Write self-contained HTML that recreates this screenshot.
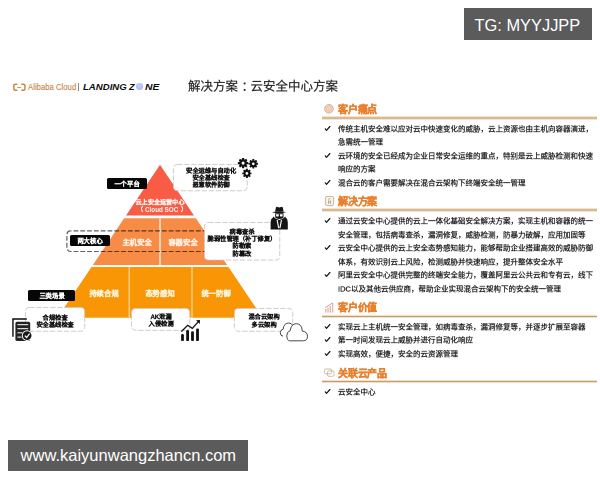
<!DOCTYPE html>
<html lang="zh-CN"><head><meta charset="utf-8">
<style>
*{margin:0;padding:0;box-sizing:border-box}
html,body{width:600px;height:480px;overflow:hidden;background:#fff}
body{position:relative;font-family:"Liberation Sans",sans-serif;color:#222}
.a{position:absolute;white-space:nowrap}
.s{position:absolute;white-space:nowrap;transform-origin:0 0;will-change:transform}
.wm{position:absolute;background:#5b5b5b;color:#fff;font-family:"Liberation Sans",sans-serif;white-space:nowrap}
.ul{position:absolute;left:322px;width:275px;height:3.4px;margin-top:-1px;background:linear-gradient(180deg,#fff0da 0%,#f3d8b4 22%,#c0a07c 50%,#e6d2b6 75%,#fff8ec 100%)}
.co{position:absolute;background:#fff;border:1px dashed #c8c8c8;border-radius:4px}
.bl{position:absolute;background:#060606;border-radius:1.6px}
</style></head>
<body>
<div class="wm" style="left:464px;top:8px;width:128px;height:31.7px;font-size:16.4px;line-height:31.7px;padding-left:10.6px"><span style="position:relative;top:1.9px">TG: MYYJJPP</span></div>
<div class="wm" style="left:8px;top:440px;width:239.6px;height:31.4px;font-size:16.5px;line-height:31.4px;padding-left:12.6px">www.kaiyunwangzhancn.com</div>
<svg class="a" style="left:12px;top:81.5px" width="16" height="11" viewBox="12 81 16 11">
  <path d="M17.3 83.15 H15.3 Q13.85 83.15 13.85 84.6 V87.7 Q13.85 89.15 15.3 89.15 H17.3" fill="none" stroke="#c58443" stroke-width="1.45"/>
  <path d="M21.4 83.15 H23.5 Q24.95 83.15 24.95 84.6 V87.7 Q24.95 89.15 23.5 89.15 H21.4" fill="none" stroke="#c58443" stroke-width="1.45"/>
  <path d="M17.2 86.5 H21.1" stroke="#c98a55" stroke-width="0.9"/>
</svg>
<div class="a" style="left:27.5px;top:82px;font-size:9px;line-height:11px;color:#c98547;-webkit-text-stroke:0.12px #c98547;transform:scaleX(0.86);transform-origin:0 0">Alibaba Cloud</div>
<div class="a" style="left:78px;top:83.2px;width:0.9px;height:7.4px;background:#8a8a8a"></div>
<div class="a" style="left:82.5px;top:82px;font-size:8.5px;line-height:10px;font-weight:bold;font-style:italic;color:#0d0d0d;transform:scaleX(1.13);transform-origin:0 0">LANDING</div>
<div class="a" style="left:128.8px;top:82px;font-size:8.5px;line-height:10px;font-weight:bold;font-style:italic;color:#0d0d0d;transform:scaleX(1.08);transform-origin:0 0">Z</div>
<div class="a" style="left:144.5px;top:82px;font-size:8.5px;line-height:10px;font-weight:bold;font-style:italic;color:#0d0d0d;transform:scaleX(1.22);transform-origin:0 0">NE</div>
<div class="a" style="left:136px;top:83.3px;width:7.4px;height:7px;border-radius:50%;background:radial-gradient(circle at 45% 40%,#c3cff7,#a0b3ef)"></div>
<div class="s" style="left:187.8px;top:78px;font-size:25.000px;line-height:32.000px;color:#262626;transform:scale(0.5);-webkit-text-stroke:0.360px #262626;">解决方案<span style="position:relative;left:7px">：</span>云安全中心方案</div>
<svg class="a" style="left:323px;top:103px" width="12" height="12" viewBox="0 0 12 12">
  <circle cx="6" cy="5.8" r="4.3" fill="#f8dcc6" stroke="#c9a593" stroke-width="0.9"/>
  <circle cx="6" cy="5.8" r="2.5" fill="none" stroke="#e3ad8c" stroke-width="0.7"/>
  <circle cx="6" cy="5.8" r="0.9" fill="#f1c58c"/>
</svg>
<div class="s" style="left:337.6px;top:104px;font-size:10.000px;line-height:12.000px;color:#e9802e;font-weight:bold;letter-spacing:-0.200px;-webkit-text-stroke:0.350px #e9802e;">客户痛点</div>
<div class="ul" style="top:117.2px"></div>
<div class="s" style="left:338.3px;top:123.69999999999999px;font-size:15.000px;line-height:20.000px;color:#1a1a1a;transform:scale(0.5);-webkit-text-stroke:0.450px #1a1a1a;">传统主机安全难以应对云中快速变化的威胁，云上资源也由主机向容器演进，</div>
<svg class="a" style="left:323px;top:123.70px" width="9" height="10" viewBox="323 123.70 9 10"><path d="M325.3 128.50 L326.5 130.10 L329.9 126.20" fill="none" stroke="#111" stroke-width="1.15" stroke-linecap="round" stroke-linejoin="round"/></svg>
<div class="s" style="left:338.3px;top:137.2px;font-size:15.000px;line-height:20.000px;color:#1a1a1a;transform:scale(0.5);-webkit-text-stroke:0.450px #1a1a1a;">急需统一管理</div>
<div class="s" style="left:338.3px;top:150.7px;font-size:15.000px;line-height:20.000px;color:#1a1a1a;transform:scale(0.5);-webkit-text-stroke:0.450px #1a1a1a;">云环境的安全已经成为企业日常安全运维的重点，特别是云上威胁检测和快速</div>
<svg class="a" style="left:323px;top:150.70px" width="9" height="10" viewBox="323 150.70 9 10"><path d="M325.3 155.50 L326.5 157.10 L329.9 153.20" fill="none" stroke="#111" stroke-width="1.15" stroke-linecap="round" stroke-linejoin="round"/></svg>
<div class="s" style="left:338.3px;top:164.2px;font-size:15.000px;line-height:20.000px;color:#1a1a1a;transform:scale(0.5);-webkit-text-stroke:0.450px #1a1a1a;">响应的方案</div>
<div class="s" style="left:338.3px;top:177.7px;font-size:15.000px;line-height:20.000px;color:#1a1a1a;transform:scale(0.5);-webkit-text-stroke:0.450px #1a1a1a;">混合云的客户需要解决在混合云架构下终端安全统一管理</div>
<svg class="a" style="left:323px;top:177.70px" width="9" height="10" viewBox="323 177.70 9 10"><path d="M325.3 182.50 L326.5 184.10 L329.9 180.20" fill="none" stroke="#111" stroke-width="1.15" stroke-linecap="round" stroke-linejoin="round"/></svg>
<svg class="a" style="left:324px;top:195px" width="11" height="12" viewBox="0 0 11 12">
  <rect x="1.4" y="1.4" width="8.2" height="9.2" rx="1.6" fill="#fbf4ea" stroke="#bfae95" stroke-width="0.9"/>
  <path d="M4 4.2 L6.5 3.6 M4.6 5.2 V9 M6.6 5.4 V9 M4.6 7 H6.6" stroke="#b49a7a" stroke-width="0.8" fill="none"/>
</svg>
<div class="s" style="left:337.6px;top:196.3px;font-size:10.000px;line-height:12.000px;color:#e9802e;font-weight:bold;letter-spacing:-0.200px;-webkit-text-stroke:0.350px #e9802e;">解决方案</div>
<div class="ul" style="top:209.3px"></div>
<div class="s" style="left:338.3px;top:216.1px;font-size:15.000px;line-height:20.000px;color:#1a1a1a;transform:scale(0.5);-webkit-text-stroke:0.450px #1a1a1a;">通过云安全中心提供的云上一体化基础安全解决方案，实现主机和容器的统一</div>
<svg class="a" style="left:323px;top:216.10px" width="9" height="10" viewBox="323 216.10 9 10"><path d="M325.3 220.90 L326.5 222.50 L329.9 218.60" fill="none" stroke="#111" stroke-width="1.15" stroke-linecap="round" stroke-linejoin="round"/></svg>
<div class="s" style="left:338.3px;top:229.6px;font-size:15.000px;line-height:20.000px;color:#1a1a1a;transform:scale(0.5);-webkit-text-stroke:0.450px #1a1a1a;">安全管理，包括病毒查杀，漏洞修复，威胁检测，防暴力破解，应用加固等</div>
<div class="s" style="left:338.3px;top:243.1px;font-size:15.000px;line-height:20.000px;color:#1a1a1a;transform:scale(0.5);-webkit-text-stroke:0.450px #1a1a1a;">云安全中心提供的云上安全态势感知能力，能够帮助企业搭建高效的威胁防御</div>
<svg class="a" style="left:323px;top:243.10px" width="9" height="10" viewBox="323 243.10 9 10"><path d="M325.3 247.90 L326.5 249.50 L329.9 245.60" fill="none" stroke="#111" stroke-width="1.15" stroke-linecap="round" stroke-linejoin="round"/></svg>
<div class="s" style="left:338.3px;top:256.6px;font-size:15.000px;line-height:20.000px;color:#1a1a1a;transform:scale(0.5);-webkit-text-stroke:0.450px #1a1a1a;">体系，有效识别云上风险，检测威胁并快速响应，提升整体安全水平</div>
<div class="s" style="left:338.3px;top:270.1px;font-size:15.000px;line-height:20.000px;color:#1a1a1a;transform:scale(0.5);-webkit-text-stroke:0.450px #1a1a1a;">阿里云安全中心提供完整的终端安全能力，覆盖阿里云公共云和专有云，线下</div>
<svg class="a" style="left:323px;top:270.10px" width="9" height="10" viewBox="323 270.10 9 10"><path d="M325.3 274.90 L326.5 276.50 L329.9 272.60" fill="none" stroke="#111" stroke-width="1.15" stroke-linecap="round" stroke-linejoin="round"/></svg>
<div class="s" style="left:338.3px;top:283.6px;font-size:15.000px;line-height:20.000px;color:#1a1a1a;transform:scale(0.5);-webkit-text-stroke:0.450px #1a1a1a;">IDC以及其他云供应商，帮助企业实现混合云架构下的安全统一管理</div>
<svg class="a" style="left:323px;top:301px" width="12" height="13" viewBox="0 0 12 13">
  <g fill="#e6b7a8"><rect x="2" y="8" width="1.4" height="3.6"/><rect x="4.3" y="6.6" width="1.4" height="5"/><rect x="6.6" y="5" width="1.4" height="6.6"/><rect x="8.9" y="2.2" width="1.4" height="9.4"/></g>
  <path d="M2.2 6.8 L9.6 1.8" stroke="#c98f80" stroke-width="0.9"/>
</svg>
<div class="s" style="left:337.6px;top:302px;font-size:10.000px;line-height:12.000px;color:#e9802e;font-weight:bold;letter-spacing:-0.200px;-webkit-text-stroke:0.350px #e9802e;">客户价值</div>
<div class="ul" style="top:315.6px"></div>
<div class="s" style="left:338.3px;top:321.9px;font-size:15.000px;line-height:20.000px;color:#1a1a1a;transform:scale(0.5);-webkit-text-stroke:0.450px #1a1a1a;">实现云上主机统一安全管理，如病毒查杀，漏洞修复等，并逐步扩展至容器</div>
<svg class="a" style="left:323px;top:321.90px" width="9" height="10" viewBox="323 321.90 9 10"><path d="M325.3 326.70 L326.5 328.30 L329.9 324.40" fill="none" stroke="#111" stroke-width="1.15" stroke-linecap="round" stroke-linejoin="round"/></svg>
<div class="s" style="left:338.3px;top:335.4px;font-size:15.000px;line-height:20.000px;color:#1a1a1a;transform:scale(0.5);-webkit-text-stroke:0.450px #1a1a1a;">第一时间发现云上威胁并进行自动化响应</div>
<svg class="a" style="left:323px;top:335.40px" width="9" height="10" viewBox="323 335.40 9 10"><path d="M325.3 340.20 L326.5 341.80 L329.9 337.90" fill="none" stroke="#111" stroke-width="1.15" stroke-linecap="round" stroke-linejoin="round"/></svg>
<div class="s" style="left:338.3px;top:348.9px;font-size:15.000px;line-height:20.000px;color:#1a1a1a;transform:scale(0.5);-webkit-text-stroke:0.450px #1a1a1a;">实现高效，便捷，安全的云资源管理</div>
<svg class="a" style="left:323px;top:348.90px" width="9" height="10" viewBox="323 348.90 9 10"><path d="M325.3 353.70 L326.5 355.30 L329.9 351.40" fill="none" stroke="#111" stroke-width="1.15" stroke-linecap="round" stroke-linejoin="round"/></svg>
<svg class="a" style="left:323px;top:367px" width="13" height="11" viewBox="0 0 13 11">
  <rect x="1.4" y="2" width="7.3" height="4.8" rx="1.4" fill="none" stroke="#c9b49a" stroke-width="0.9"/>
  <rect x="4.5" y="3.9" width="6.5" height="5.4" rx="1.4" fill="none" stroke="#c9b49a" stroke-width="0.9"/>
</svg>
<div class="s" style="left:337.6px;top:367.5px;font-size:10.000px;line-height:12.000px;color:#e9802e;font-weight:bold;letter-spacing:-0.200px;-webkit-text-stroke:0.350px #e9802e;">关联云产品</div>
<div class="ul" style="top:380.7px"></div>
<div class="s" style="left:338.3px;top:386.8px;font-size:15.000px;line-height:20.000px;color:#1a1a1a;transform:scale(0.5);-webkit-text-stroke:0.450px #1a1a1a;">云安全中心</div>
<svg class="a" style="left:323px;top:386.80px" width="9" height="10" viewBox="323 386.80 9 10"><path d="M325.3 391.60 L326.5 393.20 L329.9 389.30" fill="none" stroke="#111" stroke-width="1.15" stroke-linecap="round" stroke-linejoin="round"/></svg>
<svg class="a" style="left:0;top:0" width="320" height="360" viewBox="0 0 320 360">
  <polygon points="160,164.7 126.03,215.4 193.97,215.4" fill="#f95c44"/>
  <polygon points="124.09,218.3 195.91,218.3 227.13,264.9 92.87,264.9" fill="#f68c46"/>
  <polygon points="91.53,266.9 228.47,266.9 262.58,317.8 57.42,317.8" fill="#f99606"/>
  <rect x="159.2" y="218.3" width="1.6" height="46.6" fill="#fde3d0"/>
  <rect x="128.7" y="266.9" width="1" height="50.9" fill="#fde6b8"/>
  <rect x="191.5" y="266.9" width="1" height="50.9" fill="#fde6b8"/>
</svg>
<div class="s" style="left:120.0px;top:199.335px;font-size:12.200px;line-height:15.860px;color:#fff8f4;transform:scale(0.5);font-weight:bold;letter-spacing:0.200px;width:160.000px;text-align:center;-webkit-text-stroke:0.500px #fff8f4;">云上安全运营中心</div>
<div class="s" style="left:137.14999999999998px;top:205.835px;font-size:12.200px;line-height:15.860px;color:#fff8f4;transform:scale(0.5);font-weight:bold;letter-spacing:0.200px;width:12.200px;text-align:center;-webkit-text-stroke:0.500px #fff8f4;">（</div>
<div class="s" style="left:180.54999999999998px;top:205.835px;font-size:12.200px;line-height:15.860px;color:#fff8f4;transform:scale(0.5);font-weight:bold;letter-spacing:0.200px;width:12.200px;text-align:center;-webkit-text-stroke:0.500px #fff8f4;">）</div>
<div class="s" style="left:145px;top:205.7px;font-size:6.300px;line-height:8.000px;color:#fff8f4;font-weight:bold;will-change:transform;">Cloud SOC</div>
<div class="s" style="left:97.0px;top:237.555px;font-size:14.600px;line-height:18.980px;color:#fff4e8;transform:scale(0.5);font-weight:bold;letter-spacing:-0.400px;width:160.000px;text-align:center;-webkit-text-stroke:0.500px #fff4e8;">主机安全</div>
<div class="s" style="left:143.0px;top:237.555px;font-size:14.600px;line-height:18.980px;color:#fff4e8;transform:scale(0.5);font-weight:bold;letter-spacing:-0.400px;width:160.000px;text-align:center;-webkit-text-stroke:0.500px #fff4e8;">容器安全</div>
<div class="s" style="left:63.75px;top:288.755px;font-size:14.600px;line-height:18.980px;color:#fff6e0;transform:scale(0.5);font-weight:bold;letter-spacing:-0.400px;width:160.000px;text-align:center;-webkit-text-stroke:0.500px #fff6e0;">持续合规</div>
<div class="s" style="left:120.0px;top:288.755px;font-size:14.600px;line-height:18.980px;color:#fff6e0;transform:scale(0.5);font-weight:bold;letter-spacing:-0.400px;width:160.000px;text-align:center;-webkit-text-stroke:0.500px #fff6e0;">态势感知</div>
<div class="s" style="left:176.0px;top:288.755px;font-size:14.600px;line-height:18.980px;color:#fff6e0;transform:scale(0.5);font-weight:bold;letter-spacing:-0.400px;width:160.000px;text-align:center;-webkit-text-stroke:0.500px #fff6e0;">统一防御</div>
<svg class="a" style="left:0;top:0" width="320" height="360" viewBox="0 0 320 360"><rect x="66.9" y="230.9" width="150" height="20.6" rx="3.6" fill="none" stroke="#000" stroke-opacity="0.62" stroke-width="1.2" stroke-dasharray="4.8 2" stroke-dashoffset="-3"/></svg>
<div class="bl" style="left:106.8px;top:177.5px;width:40.40px;height:11.30px"></div>
<div class="s" style="left:87.0px;top:179.85500000000002px;font-size:12.600px;line-height:16.380px;color:#fff;transform:scale(0.5);font-weight:bold;letter-spacing:-0.400px;width:160.000px;text-align:center;-webkit-text-stroke:0.500px #fff;">一个平台</div>
<div class="bl" style="left:69.6px;top:235.1px;width:40.80px;height:10.80px"></div>
<div class="s" style="left:50.0px;top:237.305px;font-size:12.600px;line-height:16.380px;color:#fff;transform:scale(0.5);font-weight:bold;letter-spacing:-0.400px;width:160.000px;text-align:center;-webkit-text-stroke:0.500px #fff;">两大核心</div>
<div class="bl" style="left:27.7px;top:290.4px;width:47.60px;height:10.60px"></div>
<div class="s" style="left:11.5px;top:291.905px;font-size:12.600px;line-height:16.380px;color:#fff;transform:scale(0.5);font-weight:bold;letter-spacing:-0.400px;width:160.000px;text-align:center;-webkit-text-stroke:0.500px #fff;">三类场景</div>
<svg class="a" style="left:172.3px;top:163.2px" width="76.70" height="29.20"><rect x="1.45" y="1.45" width="73.80" height="26.30" rx="3.8" fill="#fff" stroke="#cfc4c1" stroke-width="0.9" stroke-dasharray="5.3 1.7"/></svg>
<div class="s" style="left:160.5px;top:167.2375px;font-size:12.500px;line-height:16.250px;color:#111;transform:scale(0.5);font-weight:bold;letter-spacing:-0.500px;width:200.000px;text-align:center;-webkit-text-stroke:0.500px #111;">安全运维与自动化</div>
<div class="s" style="left:160.5px;top:174.1375px;font-size:12.500px;line-height:16.250px;color:#111;transform:scale(0.5);font-weight:bold;letter-spacing:-0.500px;width:200.000px;text-align:center;-webkit-text-stroke:0.500px #111;">安全基线检查</div>
<div class="s" style="left:160.5px;top:181.2375px;font-size:12.500px;line-height:16.250px;color:#111;transform:scale(0.5);font-weight:bold;letter-spacing:-0.500px;width:200.000px;text-align:center;-webkit-text-stroke:0.500px #111;">恶意软件防御</div>
<svg class="a" style="left:202.8px;top:221px" width="78.20" height="40.50"><rect x="1.45" y="1.45" width="75.30" height="37.60" rx="3.8" fill="#fff" stroke="#cfc4c1" stroke-width="0.9" stroke-dasharray="5.3 1.7"/></svg>
<div class="s" style="left:191.5px;top:227.6375px;font-size:12.500px;line-height:16.250px;color:#111;transform:scale(0.5);font-weight:bold;letter-spacing:-0.500px;width:200.000px;text-align:center;-webkit-text-stroke:0.500px #111;">病毒查杀</div>
<div class="s" style="left:191.5px;top:235.1375px;font-size:12.500px;line-height:16.250px;color:#111;transform:scale(0.5);font-weight:bold;letter-spacing:-0.500px;width:200.000px;text-align:center;-webkit-text-stroke:0.500px #111;">脆弱性管理（补丁修复）</div>
<div class="s" style="left:191.5px;top:242.4375px;font-size:12.500px;line-height:16.250px;color:#111;transform:scale(0.5);font-weight:bold;letter-spacing:-0.500px;width:200.000px;text-align:center;-webkit-text-stroke:0.500px #111;">防勒索</div>
<div class="s" style="left:191.5px;top:249.7375px;font-size:12.500px;line-height:16.250px;color:#111;transform:scale(0.5);font-weight:bold;letter-spacing:-0.500px;width:200.000px;text-align:center;-webkit-text-stroke:0.500px #111;">防篡改</div>
<svg class="a" style="left:23.7px;top:306.2px" width="62.10" height="26.70"><rect x="1.45" y="1.45" width="59.20" height="23.80" rx="3.8" fill="#fff" stroke="#cfc4c1" stroke-width="0.9" stroke-dasharray="5.3 1.7"/></svg>
<div class="s" style="left:5.0px;top:313.7375px;font-size:12.500px;line-height:16.250px;color:#111;transform:scale(0.5);font-weight:bold;letter-spacing:-0.500px;width:200.000px;text-align:center;-webkit-text-stroke:0.500px #111;">合规检查</div>
<div class="s" style="left:5.0px;top:320.7375px;font-size:12.500px;line-height:16.250px;color:#111;transform:scale(0.5);font-weight:bold;letter-spacing:-0.500px;width:200.000px;text-align:center;-webkit-text-stroke:0.500px #111;">安全基线检查</div>
<svg class="a" style="left:130.2px;top:307.2px" width="61.20" height="24.80"><rect x="1.45" y="1.45" width="58.30" height="21.90" rx="3.8" fill="#fff" stroke="#cfc4c1" stroke-width="0.9" stroke-dasharray="5.3 1.7"/></svg>
<div class="s" style="left:110.5px;top:312.7375px;font-size:12.500px;line-height:16.250px;color:#111;transform:scale(0.5);font-weight:bold;letter-spacing:-0.500px;width:200.000px;text-align:center;-webkit-text-stroke:0.500px #111;">AK泄漏</div>
<div class="s" style="left:110.5px;top:320.0375px;font-size:12.500px;line-height:16.250px;color:#111;transform:scale(0.5);font-weight:bold;letter-spacing:-0.500px;width:200.000px;text-align:center;-webkit-text-stroke:0.500px #111;">入侵检测</div>
<svg class="a" style="left:232.8px;top:306.5px" width="61.20" height="25.70"><rect x="1.45" y="1.45" width="58.30" height="22.80" rx="3.8" fill="#fff" stroke="#cfc4c1" stroke-width="0.9" stroke-dasharray="5.3 1.7"/></svg>
<div class="s" style="left:213.5px;top:313.4375px;font-size:12.500px;line-height:16.250px;color:#111;transform:scale(0.5);font-weight:bold;letter-spacing:-0.500px;width:200.000px;text-align:center;-webkit-text-stroke:0.500px #111;">混合云架构</div>
<div class="s" style="left:213.5px;top:321.1375px;font-size:12.500px;line-height:16.250px;color:#111;transform:scale(0.5);font-weight:bold;letter-spacing:-0.500px;width:200.000px;text-align:center;-webkit-text-stroke:0.500px #111;">多云架构</div>
<svg class="a" style="left:235px;top:155px" width="26" height="26" viewBox="235 155 26 26">
  <defs>
    <g id="gear">
      <circle r="3.75" fill="#111"/>
      <g fill="#111">
        <rect x="-1.1" y="-5.2" width="2.2" height="10.4" rx="0.4"/>
        <rect x="-1.1" y="-5.2" width="2.2" height="10.4" rx="0.4" transform="rotate(45)"/>
        <rect x="-1.1" y="-5.2" width="2.2" height="10.4" rx="0.4" transform="rotate(90)"/>
        <rect x="-1.1" y="-5.2" width="2.2" height="10.4" rx="0.4" transform="rotate(135)"/>
      </g>
      <circle r="1.55" fill="#fff"/>
    </g>
  </defs>
  <use href="#gear" transform="translate(243.1,163.1)"/>
  <use href="#gear" transform="translate(253.3,163.8) scale(0.9)"/>
  <use href="#gear" transform="translate(246.9,173.4) scale(0.88)"/>
</svg>
<svg class="a" style="left:266px;top:202px" width="28" height="30" viewBox="266 202 28 30">
  <path d="M275.1 211.6 L275.9 207.6 Q276.5 206.5 277.6 207 L279.3 207.6 L281 207 Q282.2 206.5 282.8 207.6 L283.6 211.6 Z" fill="#151515"/>
  <path d="M272 212.2 Q279.3 210.2 286 212.2 Q279.3 214.2 272 212.2 Z" fill="#151515"/>
  <path d="M275.2 213.3 H283.5 V217.6 Q279.3 220.6 275.2 217.6 Z" fill="#151515"/>
  <path d="M275.9 214.3 H278.9 L278.6 216.4 H276.3 Z M279.8 214.3 H282.8 L282.4 216.4 H280.1 Z" fill="#fff"/>
  <path d="M270.6 229.4 V222.4 Q270.6 218.8 273 217.6 L273.2 216.4 L275.6 218.4 L279.3 220 L283 218.4 L285.4 216.4 L285.6 217.6 Q287.8 218.8 287.8 222.4 V229.4 Z" fill="#151515"/>
  <path d="M277.1 219.8 L278.7 228.2 M281.5 219.8 L279.9 228.2" fill="none" stroke="#fff" stroke-width="1.1"/>
</svg>
<svg class="a" style="left:8px;top:314px" width="28" height="30" viewBox="8 314 28 30">
  <path d="M12.95 336.8 V319.05 H26.8" fill="none" stroke="#0a0a0a" stroke-width="1.4"/>
  <rect x="15.4" y="321.8" width="14.8" height="19.1" rx="1.6" fill="#222"/>
  <g stroke="#fff" stroke-width="1" fill="none">
    <path d="M17.4 324.7 H28.2"/><path d="M17.4 328.7 H28.2"/><path d="M17.4 332.8 H22.5"/><path d="M17.4 337.1 H21.5"/>
  </g>
  <circle cx="27.1" cy="335.6" r="5.3" fill="#fff"/>
  <circle cx="27.1" cy="335.6" r="4.4" fill="#1a1a1a"/>
  <path d="M24.8 335.6 L26.6 337.5 L29.6 333.6" fill="none" stroke="#fff" stroke-width="1.2"/>
</svg>
<svg class="a" style="left:176px;top:316px" width="28" height="28" viewBox="176 316 28 28">
  <g fill="#111">
    <rect x="181.1" y="334.1" width="2.8" height="7" rx="1.2"/>
    <rect x="186.2" y="330" width="2.8" height="11.1" rx="1.2"/>
    <rect x="191.1" y="331.3" width="2.8" height="9.8" rx="1.2"/>
    <rect x="196.1" y="328.5" width="2.8" height="12.6" rx="1.2"/>
  </g>
  <path d="M181.4 331.5 L187.7 325.3 L192.3 328.4 L198.4 321.6" fill="none" stroke="#111" stroke-width="1.3"/>
  <path d="M196 320.2 L200 320 L199.8 324 Z" fill="#111"/>
</svg>
<svg class="a" style="left:276px;top:318px" width="36" height="26" viewBox="276 318 36 26">
  <path d="M283 336.2 Q280.3 336 280.3 332.6 Q280.4 329.6 283.2 329.2 Q283.6 323.3 288.5 323 Q291.6 323 292.8 325.6 L290 336.2 Z" fill="#fff" stroke="none"/><path d="M283 336.2 Q280.3 336 280.3 332.6 Q280.4 329.6 283.2 329.2 Q283.6 323.3 288.5 323 Q291.6 323 292.8 325.6" fill="none" stroke="#333" stroke-width="0.9"/>
  <path d="M289.5 340.8 H303.5 Q307.5 340.6 307.5 336.2 Q307.3 331.5 302.3 331.1 Q301.8 323.7 296.4 323.7 Q291.2 323.8 290.2 330.7 Q286.8 331.5 286.8 335.8 Q287 340.5 289.5 340.8 Z" fill="#fff" stroke="#333" stroke-width="0.9"/>
</svg>
</body></html>
